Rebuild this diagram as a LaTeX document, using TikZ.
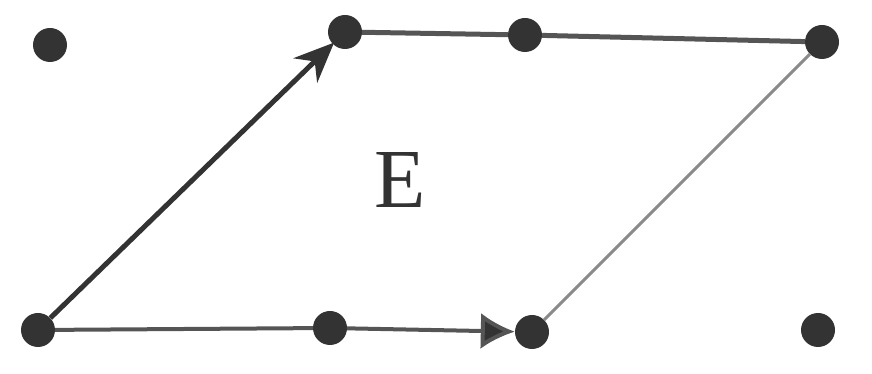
\documentclass[tikz,border=0pt]{standalone}
\usepackage{tikz}
\usepackage{fontspec}
\setmainfont{Liberation Serif}
\usetikzlibrary{arrows.meta}
\definecolor{Ink}{HTML}{333333}
\definecolor{Edge}{HTML}{555555}
\definecolor{Faint}{HTML}{8A8A8A}

\begin{document}
\begin{tikzpicture}[x=1pt,y=1pt,
  pt/.style={circle,fill=Ink,minimum size=34pt,inner sep=0pt},
  edge/.style={draw=Edge,line width=5pt}]
\useasboundingbox (0,0) rectangle (872,374);
% lattice points
\node[pt] (p1) at (50,329) {};
\node[pt] (a) at (345,342) {};
\node[pt] (b) at (525,339) {};
\node[pt] (c) at (822,332) {};
\node[pt] (o) at (38,44) {};
\node[pt] (e) at (330,46) {};
\node[pt] (f) at (532,42) {};
\node[pt] (g) at (818,44) {};
% cell
\draw[edge] (a)--(b)--(c);
\draw[draw=Faint,line width=3pt] (c)--(f);
\draw[edge,draw=Ink,-{Stealth[length=40pt,width=34pt,fill=Ink]},shorten >=-2pt] (o)--(a);
\draw[edge,line width=4pt] (o)--(e);
\draw[edge,line width=4pt,-{Latex[length=34pt,width=36pt,fill=Ink]}] (e)--(f);
\node[font=\fontsize{84}{86}\selectfont,text=Ink] (lab) at (400,194) {E};
\end{tikzpicture}
\end{document}
